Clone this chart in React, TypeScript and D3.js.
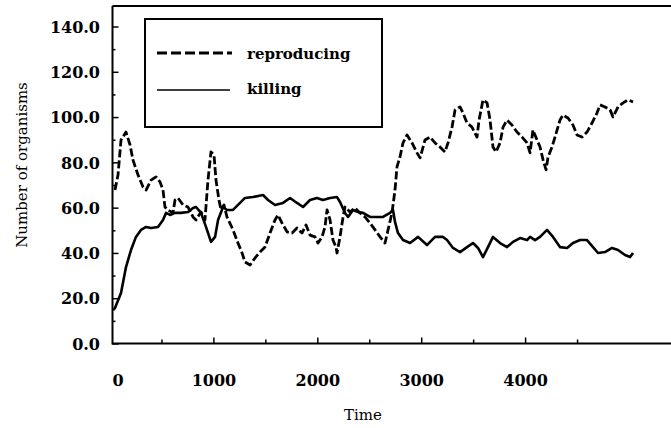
import React from "react";
import * as d3 from "d3";

// time / value pairs
const reproTime = [48, 77, 106, 154, 193, 221, 270, 318, 347, 395, 443, 481, 510, 529, 558, 606, 626, 654, 703, 751, 799, 828, 876, 914, 943, 972, 1001, 1020, 1049, 1068, 1097, 1126, 1184, 1232, 1271, 1299, 1348, 1396, 1444, 1492, 1540, 1588, 1617, 1656, 1704, 1752, 1800, 1848, 1887, 1925, 1973, 2002, 2041, 2069, 2089, 2118, 2146, 2175, 2185, 2214, 2243, 2262, 2310, 2358, 2406, 2454, 2503, 2551, 2599, 2647, 2676, 2714, 2743, 2762, 2791, 2820, 2859, 2907, 2955, 2984, 3032, 3080, 3128, 3176, 3224, 3253, 3292, 3321, 3369, 3398, 3436, 3484, 3532, 3552, 3590, 3629, 3658, 3686, 3715, 3754, 3783, 3821, 3869, 3917, 3966, 4014, 4043, 4071, 4110, 4139, 4168, 4197, 4216, 4254, 4283, 4331, 4360, 4408, 4456, 4495, 4543, 4591, 4639, 4687, 4716, 4764, 4813, 4841, 4890, 4938, 4986, 5034];
const reproValue = [68, 74.6, 90.1, 93.6, 87.9, 81.3, 74.6, 69.3, 68, 72.4, 73.8, 71.6, 68, 60.5, 59.2, 57.9, 63.6, 64.5, 61.4, 60.5, 56.1, 54.8, 58.3, 54.8, 72.4, 84.8, 83.5, 72.4, 63.6, 59.2, 61.4, 56.1, 50.4, 44.6, 40.2, 36.2, 34.9, 38, 40.6, 42.8, 49, 54.8, 57, 53.4, 49.5, 49, 51.2, 49, 52.6, 48.1, 47.3, 44.6, 47.3, 51.7, 59.2, 54.8, 45.9, 42.8, 40.2, 47.3, 56.1, 60.5, 58.3, 60.1, 57.9, 56.1, 53.4, 50.4, 47.3, 44.6, 50.4, 57.9, 68, 78.2, 82.6, 88.8, 92.3, 88.8, 84.4, 82.2, 90.1, 91.4, 88.8, 87, 84.8, 88.8, 95.8, 103.4, 104.7, 102, 97.6, 95.8, 91.4, 98.9, 107.8, 106.5, 98.9, 87, 84.8, 88.8, 95.8, 98.9, 96.7, 93.6, 91.4, 88.8, 84.4, 94.5, 90.1, 87, 81.3, 76.9, 82.6, 87, 91.4, 98.9, 101.1, 99.8, 96.7, 92.3, 91.4, 93.6, 97.6, 102, 105.6, 104.7, 103.4, 100.3, 104.7, 106.5, 107.8, 106.9];

const killTime = [29, 48, 106, 154, 202, 250, 298, 347, 395, 462, 510, 539, 578, 626, 683, 751, 799, 828, 876, 924, 972, 1011, 1040, 1088, 1126, 1184, 1251, 1299, 1376, 1473, 1521, 1588, 1665, 1733, 1800, 1858, 1925, 1992, 2050, 2118, 2185, 2214, 2262, 2291, 2339, 2387, 2435, 2503, 2570, 2628, 2695, 2724, 2743, 2772, 2820, 2888, 2965, 3051, 3128, 3205, 3244, 3301, 3369, 3436, 3494, 3542, 3590, 3638, 3686, 3754, 3821, 3879, 3946, 4014, 4043, 4091, 4139, 4206, 4264, 4331, 4399, 4456, 4524, 4591, 4649, 4697, 4764, 4832, 4890, 4957, 5005, 5034];
const killValue = [15, 15.9, 22.5, 34, 41.5, 47.3, 50.4, 51.7, 51.2, 51.7, 54.8, 57.9, 57, 57.9, 57.9, 58.3, 60.1, 60.5, 57.9, 51.7, 45.1, 47.3, 54.8, 60.5, 59.2, 59.2, 62.3, 64.5, 64.9, 65.8, 63.6, 61.4, 62.3, 64.5, 62.3, 60.5, 63.6, 64.5, 63.6, 64.5, 64.9, 62.7, 57.9, 56.1, 59.2, 58.3, 57.9, 56.1, 56.1, 56.1, 57.9, 59.2, 53.9, 49, 45.9, 44.6, 47.3, 43.7, 47.3, 47.3, 45.9, 42.4, 40.6, 42.8, 44.6, 42.4, 38.4, 42.8, 47.3, 44.6, 42.8, 45.1, 46.8, 45.9, 47.3, 45.9, 47.3, 50.4, 47.3, 42.8, 42.4, 44.6, 45.9, 45.9, 42.8, 40.2, 40.6, 42.4, 41.5, 39.3, 38.4, 40.2];

const yTicks = [0, 20, 40, 60, 80, 100, 120, 140];
const yMinor = [10, 30, 50, 70, 90, 110, 130];
const xTicks = [0, 1000, 2000, 3000, 4000];
const xMinor = [500, 1500, 2500, 3500, 4500];

const W = 671;
const H = 428;
const font = "'DejaVu Serif', serif";

export default function App() {
  const x = d3.scaleLinear().domain([0, 5000]).range([110, 629.5]);
  const y = d3.scaleLinear().domain([0, 140]).range([344, 27]);
  const axisX = 112.5;
  const axisY = 343.5;
  const top = 6;

  const line = d3
    .line<number>()
    .x((d, i) => d)
    .y((d) => d);

  const repro = reproTime.map((t, i) => [x(t), y(reproValue[i])] as [number, number]);
  const kill = killTime.map((t, i) => [x(t), y(killValue[i])] as [number, number]);
  const path = d3.line();

  return (
    <svg
      width={W}
      height={H}
      style={{ position: "absolute", left: 0, top: 0, background: "#fff" }}
    >
      {/* frame */}
      <line x1={axisX} x2={W} y1={top} y2={top} stroke="#000" strokeWidth={2} />
      <line x1={axisX} x2={axisX} y1={top} y2={axisY + 1} stroke="#000" strokeWidth={2} />
      <line x1={axisX} x2={W} y1={axisY} y2={axisY} stroke="#000" strokeWidth={2} />

      {/* y ticks */}
      {yTicks.map((v) => (
        <g key={"y" + v}>
          <line x1={axisX} x2={axisX + 6} y1={y(v)} y2={y(v)} stroke="#000" strokeWidth={1.5} />
          <text
            x={100}
            y={y(v)}
            dy="0.36em"
            textAnchor="end"
            fontFamily={font}
            fontWeight="bold"
            fontSize={16}
          >
            {v.toFixed(1)}
          </text>
        </g>
      ))}
      {yMinor.map((v) => (
        <line key={"ym" + v} x1={axisX} x2={axisX + 3} y1={y(v)} y2={y(v)} stroke="#000" strokeWidth={1.5} />
      ))}

      {/* x ticks */}
      {xTicks.map((v) => (
        <g key={"x" + v}>
          {v > 0 && (
            <line x1={x(v)} x2={x(v)} y1={axisY} y2={axisY - 6} stroke="#000" strokeWidth={1.5} />
          )}
          <text
            x={x(v) + (v === 0 ? 8 : 0)}
            y={386}
            textAnchor="middle"
            fontFamily={font}
            fontWeight="bold"
            fontSize={16}
          >
            {v}
          </text>
        </g>
      ))}
      {xMinor.map((v) => (
        <line key={"xm" + v} x1={x(v)} x2={x(v)} y1={axisY} y2={axisY - 4} stroke="#000" strokeWidth={1.5} />
      ))}

      {/* axis titles */}
      <text x={363} y={420} textAnchor="middle" fontFamily={font} fontSize={15}>
        Time
      </text>
      <text
        transform="translate(27,165) rotate(-90)"
        textAnchor="middle"
        fontFamily={font}
        fontSize={15}
      >
        Number of organisms
      </text>

      {/* series */}
      <path
        d={path(repro) || ""}
        fill="none"
        stroke="#000"
        strokeWidth={2.8}
        strokeDasharray="8 3"
        strokeLinejoin="round"
      />
      <path
        d={path(kill) || ""}
        fill="none"
        stroke="#000"
        strokeWidth={2.6}
        strokeLinejoin="round"
      />

      {/* legend */}
      <rect x={145} y={19} width={237} height={108} fill="#fff" stroke="#000" strokeWidth={2} />
      <line x1={157} x2={232} y1={53} y2={53} stroke="#000" strokeWidth={3} strokeDasharray="10 4" />
      <line x1={157} x2={230} y1={90} y2={90} stroke="#000" strokeWidth={1.5} />
      <text x={247} y={59} fontFamily={font} fontWeight="bold" fontSize={15}>
        reproducing
      </text>
      <text x={247} y={94} fontFamily={font} fontWeight="bold" fontSize={15}>
        killing
      </text>
    </svg>
  );
}
